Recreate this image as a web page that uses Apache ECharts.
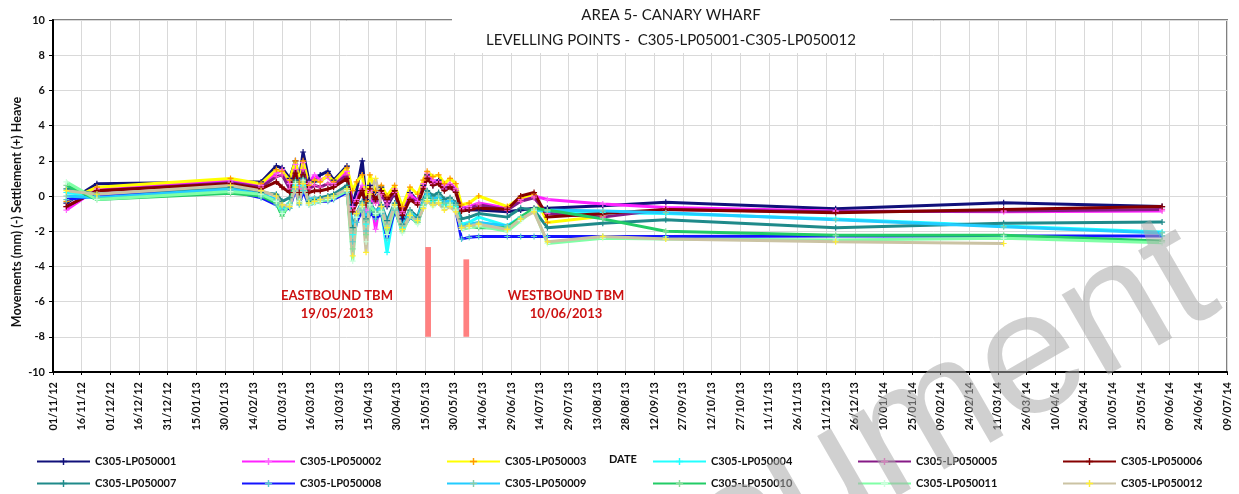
<!DOCTYPE html>
<html>
<head>
<meta charset="utf-8">
<script src="https://cdn.jsdelivr.net/npm/echarts@6/dist/echarts.min.js"></script>
<style>
  html, body { margin: 0; padding: 0; background: #fff; }
  #chart { width: 1239px; height: 494px; }
</style>
</head>
<body>
<div id="chart"></div>
<script>
// axis start, ticks every 15 days
var startDate = '2012-11-01';
var endDate = '2014-07-09';
var tickDays = 15;

// survey dates
var dates = ['2012-11-08', '2012-11-24', '2013-02-02', '2013-02-18', '2013-02-26', '2013-03-01', '2013-03-05', '2013-03-08',
    '2013-03-10', '2013-03-12', '2013-03-15', '2013-03-18', '2013-03-21', '2013-03-25', '2013-03-28', '2013-04-04',
    '2013-04-07', '2013-04-09', '2013-04-12', '2013-04-14', '2013-04-16', '2013-04-19', '2013-04-22', '2013-04-25',
    '2013-04-29', '2013-05-03', '2013-05-07', '2013-05-11', '2013-05-14', '2013-05-16', '2013-05-19', '2013-05-22',
    '2013-05-25', '2013-05-28', '2013-05-31', '2013-06-03', '2013-06-07', '2013-06-12', '2013-06-27', '2013-07-04',
    '2013-07-11', '2013-07-18', '2013-08-16', '2013-09-18', '2013-12-16', '2014-03-14', '2014-06-05'];

var lp01 = [-0.4, 0.7, 0.8, 0.8, 1.7, 1.6, 1.0, 2.0, 0.9, 2.5, 0.9, 0.8, 1.2, 1.4, 0.9, 1.7,
    -0.5, 0.3, 2.0, -0.2, 0.6, 0.2, 0.5, -0.6, 0.2, -1.3, 0.2, -0.3, 0.6, 1.2, 0.6, 0.9, 0.4, 0.6, 0.3,
    -0.7, -0.8, -0.8, -0.9, -0.8, -0.7, -0.7, -0.55, -0.35, -0.72, -0.38, -0.6];
var lp02 = [-0.8, 0.4, 0.85, 0.6, 1.3, 1.5, 0.7, 1.8, 0.6, 1.9, 0.7, 1.2, 0.9, 1.1, 0.7, 1.4,
    -0.6, -0.2, 0.6, -0.8, 0.3, -1.9, 0.2, -0.3, 0.4, -0.9, 0.1, -0.3, 0.7, 1.3, 0.9, 0.8, 0.6, 0.7, 0.4,
    -0.7, -0.6, -0.4, -0.7, -0.2, 0.0, -0.2, -0.45, -0.65, -0.85, -0.9, -0.85];
var lp03 = [-0.3, 0.5, 1.0, 0.7, 1.5, 1.4, 0.9, 2.0, 0.8, 2.0, 0.6, 0.9, 0.8, 1.2, 0.8, 1.6,
    0.3, 0.8, 1.2, -0.3, 1.2, 0.3, 0.6, 0.0, 0.6, -0.6, 0.5, 0.1, 0.9, 1.4, 1.1, 1.2, 0.7, 1.0, 0.7,
    -0.5, -0.4, 0.0, -0.6, -0.1, 0.1, -1.5, -1.15, null, null, null, null];
var lp04 = [0.2, 0.0, 0.35, 0.0, -0.3, -0.7, -0.4, 0.6, -0.4, 0.6, -0.3, -0.3, -0.2, -0.1, 0.0, 0.4,
    -2.2, -1.2, -0.5, -1.6, -0.6, -1.1, -0.8, -3.2, -0.6, -1.8, -1.0, -1.4, -0.5, 0.0, -0.3, -0.2, -0.5, -0.4, -0.6,
    -1.6, -1.5, -1.2, -1.7, -1.2, -0.8, -0.9, -0.95, -1.0, -1.3, -1.7, -2.05];
var lp05 = [-0.6, 0.3, 0.75, 0.5, 1.1, 1.2, 0.4, 1.5, 0.4, 1.5, 0.4, 0.6, 0.5, 0.7, 0.6, 1.2,
    -0.8, -0.3, 0.4, -0.6, 0.2, -0.4, 0.1, -0.5, 0.2, -1.0, -0.1, -0.4, 0.5, 1.1, 0.7, 0.8, 0.4, 0.6, 0.3,
    -0.8, -0.7, -0.5, -0.8, -0.3, -0.1, -1.0, -1.2, -0.76, -0.9, -0.85, -0.76];
var lp06 = [-0.6, 0.3, 0.7, 0.4, 0.8, 0.5, 0.2, 1.3, 0.2, 1.2, 0.2, 0.3, 0.3, 0.4, 0.5, 1.0,
    -0.9, -0.4, 0.3, -0.5, 0.4, -0.2, 0.3, -0.2, 0.3, -1.1, -0.2, -0.5, 0.4, 1.0, 0.6, 0.7, 0.3, 0.5, 0.2,
    -0.85, -0.8, -0.7, -0.75, 0.0, 0.2, -1.2, -1.0, -0.76, -0.95, -0.76, -0.6];
var lp07 = [0.4, 0.1, 0.5, 0.2, 0.1, -0.3, -0.1, 0.9, -0.2, 1.0, -0.3, -0.2, -0.1, 0.0, 0.1, 0.6,
    -1.8, -1.0, -0.3, -1.3, -0.4, -0.9, -0.5, -1.4, -0.4, -1.6, -0.8, -1.2, -0.2, 0.3, 0.0, 0.2, -0.2, -0.1, -0.4,
    -1.3, -1.2, -1.0, -1.2, -0.7, -0.8, -1.8, -1.55, -1.35, -1.8, -1.55, -1.48];
var lp08 = [-0.2, 0.0, 0.3, -0.1, -0.5, -0.8, -0.7, 0.4, -0.5, 0.3, -0.5, -0.4, -0.3, -0.3, -0.2, 0.2,
    -2.6, -1.5, -0.8, -2.0, -0.9, -1.3, -1.0, -2.4, -0.8, -1.9, -1.2, -1.5, -0.6, -0.1, -0.4, -0.3, -0.6, -0.5, -0.8,
    -2.45, -2.35, -2.3, -2.3, -2.3, -2.3, -2.3, -2.3, -2.3, -2.27, -2.27, -2.27];
var lp09 = [0.0, -0.1, 0.4, 0.1, -0.2, -0.6, -0.5, 0.5, -0.3, 0.5, -0.2, -0.1, -0.2, -0.1, -0.1, 0.3,
    -2.0, -1.0, -0.4, -1.4, -0.5, -0.9, -0.6, -1.6, -0.5, -1.7, -0.9, -1.3, -0.3, 0.2, -0.2, 0.0, -0.4, -0.2, -0.5,
    -1.7, -1.6, -1.5, -1.7, -1.3, -0.8, -0.8, -0.85, -0.95, -1.35, -1.75, -2.1];
var lp10 = [0.6, -0.2, 0.15, 0.0, -0.4, -1.15, -0.4, 0.8, -0.2, 0.8, -0.4, -0.3, -0.3, -0.2, -0.1, 0.3,
    -3.0, -1.0, -0.7, -2.2, -0.6, -1.1, -0.8, -1.9, -0.7, -2.0, -1.0, -1.5, -0.5, 0.0, -0.4, -0.2, -0.6, -0.4, -0.7,
    -1.8, -1.7, -1.8, -1.8, -1.2, -0.7, -0.8, -1.3, -2.0, -2.23, -2.23, -2.55];
var lp11 = [0.8, -0.2, 0.25, 0.1, -0.3, -1.0, -0.5, 0.7, -0.3, 0.9, -0.5, -0.4, -0.3, -0.2, -0.1, 0.3,
    -3.7, -1.2, -0.6, -2.6, -0.5, -1.0, -0.9, -2.2, -0.6, -2.1, -1.1, -1.6, -0.6, -0.2, -0.6, -0.3, -0.7, -0.5, -0.8,
    -1.9, -1.8, -1.7, -2.0, -1.4, -0.8, -2.7, -2.4, -2.45, -2.5, -2.4, -2.65];
var lp12 = [0.3, 0.1, 0.6, 0.3, 0.0, -0.5, -0.6, 0.5, -0.4, 0.7, -0.4, -0.3, -0.2, -0.1, 0.0, 0.4,
    -3.4, -1.0, -0.5, -3.2, 0.1, 1.0, -0.6, -1.8, -0.5, -1.9, -1.1, -1.4, -0.7, -0.3, -0.5, -0.4, -0.8, -0.6, -0.9,
    -1.8, -1.7, -1.6, -1.9, -1.3, -0.9, -2.6, -2.3, -2.45, -2.6, -2.7, null];

var seriesNames = ['C305-LP050001', 'C305-LP050002', 'C305-LP050003', 'C305-LP050004', 'C305-LP050005', 'C305-LP050006',
    'C305-LP050007', 'C305-LP050008', 'C305-LP050009', 'C305-LP050010', 'C305-LP050011', 'C305-LP050012'];
var seriesValues = [lp01, lp02, lp03, lp04, lp05, lp06, lp07, lp08, lp09, lp10, lp11, lp12];
var lineColors = ['#10107a', '#ff22ff', '#ffff00', '#22ffff', '#861a86', '#860000',
    '#1f8a8a', '#1414ff', '#22ccff', '#22cc66', '#80ffa6', '#cbc3a3'];
var markerColors = ['#10107a', '#ff66ff', '#ff9900', '#22ffff', '#ff55cc', '#860000',
    '#1f8a8a', '#55cccc', '#88ccaa', '#88dd99', '#ccffdd', '#ffee33'];

// TBM drives (annotation)
var tbmLabels = ['EASTBOUND TBM\n19/05/2013', 'WESTBOUND TBM\n10/06/2013'];
var tbmBars = [['2013-05-15', '2013-05-18', -2.9], ['2013-06-04', '2013-06-07', -3.6]];
var tbmBarBottom = -8;

function dayIndex(s) {
    var a = s.split('-'), b = startDate.split('-');
    return Math.round((Date.UTC(+a[0], a[1] - 1, +a[2]) - Date.UTC(+b[0], b[1] - 1, +b[2])) / 86400000);
}

function dayLabel(v) {
    var b = startDate.split('-');
    var d = new Date(Date.UTC(+b[0], b[1] - 1, +b[2]) + v * 86400000);
    var dd = ('0' + d.getUTCDate()).slice(-2);
    var mm = ('0' + (d.getUTCMonth() + 1)).slice(-2);
    var yy = ('' + d.getUTCFullYear()).slice(-2);
    return dd + '/' + mm + '/' + yy;
}

var plus = 'path://M0,4H10V6H0Z M4,0H6V10H4Z';
var font = 'Lato, "Liberation Sans", sans-serif';

var series = seriesNames.map(function (name, i) {
    var pts = [];
    for (var k = 0; k < dates.length; k++) {
        if (seriesValues[i][k] !== null) pts.push([dayIndex(dates[k]), seriesValues[i][k]]);
    }
    return {
        name: name,
        type: 'line',
        data: pts,
        symbol: plus,
        symbolSize: 6,
        lineStyle: { color: lineColors[i], width: 3 },
        itemStyle: { color: markerColors[i] },
        emphasis: { disabled: true }
    };
});

series[0].markArea = {
    silent: true,
    itemStyle: { color: '#ff8080' },
    data: tbmBars.map(function (b) {
        return [{ coord: [dayIndex(b[0]), b[2]] }, { coord: [dayIndex(b[1]), tbmBarBottom] }];
    })
};

// one legend per entry, 6 columns x 2 rows
var legendCols = [36, 241, 446, 652, 857, 1062];
var legends = seriesNames.map(function (name, i) {
    return {
        data: [name],
        left: legendCols[i % 6],
        top: i < 6 ? 456 : 478,
        padding: 0,
        itemWidth: 53,
        itemHeight: 9,
        textStyle: { fontFamily: font, fontSize: 11, fontWeight: 'bold', color: '#111' }
    };
});

var chart = echarts.init(document.getElementById('chart'));

chart.setOption({
    animation: false,
    backgroundColor: '#fff',
    grid: { left: 53, right: 12, top: 20, bottom: 122, show: true, borderColor: '#808080', borderWidth: 2 },
    xAxis: {
        type: 'value',
        min: 0,
        max: dayIndex(endDate),
        interval: tickDays,
        axisLine: { show: true, onZero: false, lineStyle: { color: '#000', width: 2 } },
        axisTick: { show: true, length: 3, lineStyle: { color: '#000' } },
        splitLine: { show: true, lineStyle: { color: '#d9d9d9', width: 1 } },
        axisLabel: { rotate: 90, margin: 10, fontFamily: font, fontSize: 11, fontWeight: 'bold', color: '#111', formatter: dayLabel }
    },
    yAxis: {
        type: 'value',
        min: -10,
        max: 10,
        interval: 2,
        axisLine: { show: true, lineStyle: { color: '#000', width: 2 } },
        axisTick: { show: true, length: 4, lineStyle: { color: '#000' } },
        splitLine: { show: true, lineStyle: { color: '#d9d9d9', width: 1 } },
        axisLabel: { margin: 8, fontFamily: font, fontSize: 11, fontWeight: 'bold', color: '#111' }
    },
    legend: legends,
    graphic: [
        { type: 'rect', shape: { x: 452, y: 0, width: 438, height: 53 }, style: { fill: '#fff' }, z: 100 },
        { type: 'text', x: 671, y: 15, z: 101, style: { text: 'AREA 5- CANARY WHARF', fontFamily: font, fontSize: 15, fill: '#1a1a1a', align: 'center', verticalAlign: 'middle' } },
        { type: 'text', x: 671, y: 40, z: 101, style: { text: 'LEVELLING POINTS -  C305-LP05001-C305-LP050012', fontFamily: font, fontSize: 15, fill: '#1a1a1a', align: 'center', verticalAlign: 'middle' } },
        { type: 'text', x: 17, y: 212, rotation: Math.PI / 2, z: 101, style: { text: 'Movements (mm) (-) Settlement (+) Heave', fontFamily: font, fontSize: 12.5, fontWeight: 'bold', fill: '#111', align: 'center', verticalAlign: 'middle' } },
        { type: 'text', x: 609, y: 459, z: 101, style: { text: 'DATE', fontFamily: font, fontSize: 11, fontWeight: 'bold', fill: '#111', align: 'left', verticalAlign: 'middle' } },
        { type: 'text', x: 337, y: 305, z: 101, style: { text: tbmLabels[0], fontFamily: font, fontSize: 13, fontWeight: 'bold', fill: '#cc1111', align: 'center', verticalAlign: 'middle', lineHeight: 18 } },
        { type: 'text', x: 566, y: 305, z: 101, style: { text: tbmLabels[1], fontFamily: font, fontSize: 13, fontWeight: 'bold', fill: '#cc1111', align: 'center', verticalAlign: 'middle', lineHeight: 18 } },
        // watermark
        { type: 'text', x: 1200, y: 266, rotation: 30 * Math.PI / 180, z: 102, silent: true, style: { text: 'document', fontFamily: '"Liberation Sans", sans-serif', fontSize: 175, fill: 'rgba(170,170,170,0.55)', align: 'right', verticalAlign: 'middle' } }
    ],
    series: series
});
</script>
</body>
</html>
